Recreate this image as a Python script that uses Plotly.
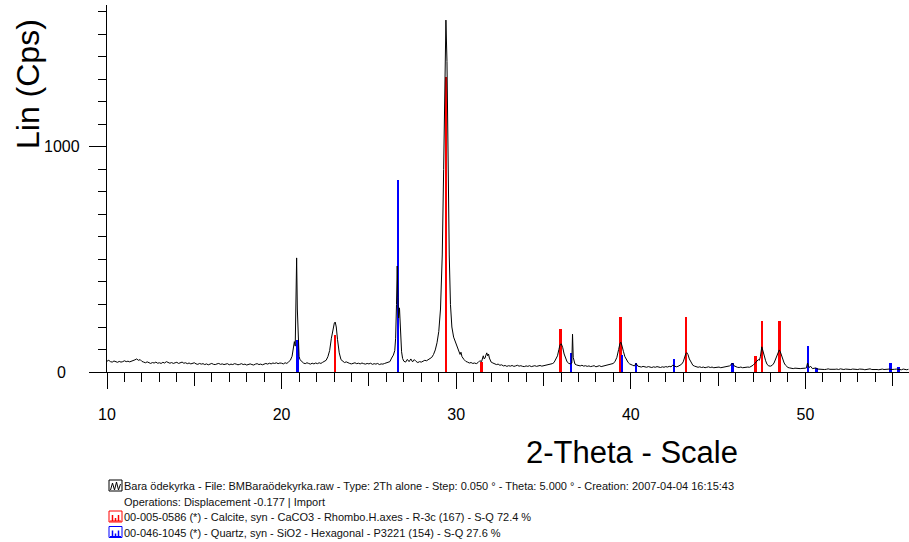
import plotly.graph_objects as go

# ---------------- data ----------------
# measured pattern (2-Theta, counts) read from the picture
pattern_points = [
    (10.0, 48), (10.1, 52), (10.2, 46), (10.3, 44), (10.4, 49), (10.5, 45), (10.6, 43), (10.7, 47),
    (10.8, 44), (10.9, 46), (11.0, 50), (11.1, 46), (11.2, 48), (11.3, 45), (11.4, 47), (11.5, 50),
    (11.6, 54), (11.7, 58), (11.8, 52), (11.9, 55), (12.0, 47), (12.1, 44), (12.2, 41), (12.3, 45),
    (12.4, 42), (12.5, 38), (12.6, 42), (12.7, 40), (12.8, 44), (12.9, 39), (13.0, 41), (13.1, 38),
    (13.2, 43), (13.3, 40), (13.4, 46), (13.5, 41), (13.6, 39), (13.7, 42), (13.8, 38), (13.9, 41),
    (14.0, 43), (14.1, 38), (14.2, 40), (14.3, 44), (14.4, 39), (14.5, 41), (14.6, 37), (14.7, 40),
    (14.8, 36), (14.9, 39), (15.0, 41), (15.1, 36), (15.2, 34), (15.3, 38), (15.4, 35), (15.5, 37),
    (15.6, 33), (15.7, 36), (15.8, 32), (15.9, 35), (16.0, 38), (16.1, 34), (16.2, 33), (16.3, 36),
    (16.4, 38), (16.5, 34), (16.6, 36), (16.7, 33), (16.8, 35), (16.9, 37), (17.0, 32), (17.1, 35),
    (17.2, 33), (17.3, 37), (17.4, 35), (17.5, 32), (17.6, 34), (17.7, 37), (17.8, 33), (17.9, 35),
    (18.0, 31), (18.1, 34), (18.2, 36), (18.3, 33), (18.4, 31), (18.5, 35), (18.6, 37), (18.7, 33),
    (18.8, 35), (18.9, 32), (19.0, 36), (19.1, 38), (19.2, 35), (19.3, 39), (19.4, 36), (19.5, 40),
    (19.6, 38), (19.7, 41), (19.8, 37), (19.9, 40), (20.0, 39), (20.1, 36), (20.2, 41), (20.3, 38),
    (20.4, 45), (20.5, 52), (20.6, 70), (20.68, 100), (20.73, 135), (20.78, 115), (20.82, 300),
    (20.86, 507), (20.9, 280), (20.95, 110), (21.0, 70), (21.05, 55), (21.15, 45), (21.25, 40),
    (21.35, 37), (21.45, 41), (21.55, 38), (21.65, 35), (21.75, 39), (21.85, 36), (21.95, 40),
    (22.05, 37), (22.15, 41), (22.25, 38), (22.35, 43), (22.45, 46), (22.55, 52), (22.65, 68),
    (22.75, 95), (22.85, 150), (22.95, 200), (23.02, 218), (23.07, 222), (23.13, 200), (23.2, 145),
    (23.3, 85), (23.4, 55), (23.5, 48), (23.6, 42), (23.7, 45), (23.8, 40), (23.9, 38), (24.0, 36),
    (24.1, 39), (24.2, 41), (24.3, 37), (24.4, 39), (24.5, 36), (24.6, 40), (24.7, 37), (24.8, 35),
    (24.9, 38), (25.0, 36), (25.1, 39), (25.2, 34), (25.3, 37), (25.4, 35), (25.5, 38), (25.6, 33),
    (25.7, 36), (25.8, 35), (25.9, 38), (26.0, 40), (26.1, 42), (26.2, 46), (26.3, 62), (26.4, 75),
    (26.48, 95), (26.53, 150), (26.58, 300), (26.62, 471), (26.66, 330), (26.7, 240), (26.75, 285),
    (26.8, 170), (26.87, 90), (26.93, 60), (27.0, 48), (27.1, 44), (27.2, 56), (27.3, 46),
    (27.4, 58), (27.5, 45), (27.6, 55), (27.7, 47), (27.8, 42), (27.9, 46), (28.0, 44), (28.1, 48),
    (28.2, 52), (28.3, 50), (28.4, 56), (28.5, 58), (28.6, 65), (28.7, 78), (28.8, 98), (28.9, 130),
    (29.0, 180), (29.1, 280), (29.2, 520), (29.28, 900), (29.35, 1300), (29.41, 1564), (29.47, 1380),
    (29.53, 950), (29.6, 520), (29.67, 300), (29.75, 200), (29.85, 155), (29.95, 135), (30.05, 120),
    (30.15, 95), (30.22, 78), (30.27, 88), (30.33, 68), (30.45, 55), (30.55, 47), (30.65, 44),
    (30.75, 40), (30.85, 42), (30.95, 38), (31.05, 40), (31.15, 37), (31.25, 42), (31.35, 50),
    (31.45, 46), (31.5, 60), (31.55, 72), (31.6, 58), (31.65, 62), (31.7, 75), (31.75, 85),
    (31.8, 72), (31.85, 80), (31.9, 62), (31.95, 50), (32.0, 44), (32.1, 40), (32.2, 36), (32.3, 33),
    (32.4, 35), (32.5, 30), (32.6, 32), (32.7, 27), (32.8, 29), (32.9, 25), (33.0, 28), (33.1, 26),
    (33.2, 29), (33.3, 25), (33.4, 27), (33.5, 30), (33.6, 26), (33.7, 28), (33.8, 25), (33.9, 24),
    (34.0, 27), (34.1, 25), (34.2, 28), (34.3, 24), (34.4, 26), (34.5, 28), (34.6, 25), (34.7, 27),
    (34.8, 29), (34.9, 26), (35.0, 28), (35.1, 30), (35.2, 29), (35.3, 32), (35.4, 34), (35.5, 37),
    (35.6, 42), (35.7, 55), (35.8, 72), (35.88, 100), (35.95, 122), (36.02, 125), (36.1, 108),
    (36.18, 80), (36.26, 58), (36.35, 45), (36.45, 38), (36.55, 36), (36.62, 40), (36.66, 168),
    (36.7, 65), (36.75, 42), (36.8, 35), (36.9, 31), (37.0, 29), (37.1, 27), (37.2, 30), (37.3, 26),
    (37.4, 28), (37.5, 25), (37.6, 27), (37.7, 24), (37.8, 26), (37.9, 28), (38.0, 23), (38.1, 26),
    (38.2, 28), (38.3, 24), (38.4, 26), (38.5, 25), (38.6, 27), (38.7, 29), (38.8, 31), (38.9, 34),
    (39.0, 38), (39.1, 48), (39.2, 65), (39.3, 100), (39.38, 128), (39.44, 132), (39.5, 118),
    (39.58, 90), (39.66, 68), (39.75, 52), (39.85, 42), (39.93, 36), (40.0, 32), (40.1, 30),
    (40.2, 27), (40.3, 38), (40.4, 26), (40.5, 24), (40.6, 22), (40.7, 25), (40.8, 23), (40.9, 21),
    (41.0, 24), (41.1, 22), (41.2, 20), (41.3, 23), (41.4, 21), (41.5, 24), (41.6, 22), (41.7, 20),
    (41.8, 23), (41.9, 21), (42.0, 24), (42.1, 22), (42.2, 25), (42.3, 23), (42.4, 30), (42.5, 26),
    (42.6, 23), (42.7, 25), (42.8, 28), (42.9, 34), (43.0, 45), (43.08, 68), (43.15, 82), (43.2, 86),
    (43.27, 78), (43.35, 58), (43.45, 40), (43.55, 30), (43.65, 26), (43.75, 23), (43.85, 21),
    (43.95, 23), (44.05, 20), (44.15, 22), (44.25, 19), (44.35, 21), (44.45, 23), (44.55, 20),
    (44.65, 22), (44.75, 19), (44.85, 21), (44.95, 20), (45.05, 22), (45.15, 19), (45.25, 21),
    (45.35, 23), (45.45, 22), (45.55, 25), (45.65, 27), (45.75, 33), (45.82, 40), (45.9, 28),
    (46.0, 24), (46.1, 21), (46.2, 20), (46.3, 22), (46.4, 19), (46.5, 21), (46.6, 20), (46.7, 22),
    (46.8, 21), (46.9, 25), (47.0, 30), (47.1, 38), (47.2, 46), (47.3, 55), (47.36, 52), (47.42, 68),
    (47.5, 112), (47.55, 95), (47.6, 80), (47.66, 70), (47.72, 50), (47.8, 34), (47.9, 27),
    (48.0, 26), (48.1, 30), (48.2, 40), (48.28, 55), (48.36, 72), (48.44, 92), (48.5, 98),
    (48.56, 90), (48.63, 72), (48.7, 55), (48.78, 40), (48.86, 30), (48.95, 24), (49.0, 20),
    (49.1, 18), (49.2, 16), (49.3, 15), (49.4, 17), (49.5, 16), (49.6, 14), (49.7, 15), (49.8, 16),
    (49.9, 15), (50.0, 17), (50.05, 18), (50.12, 40), (50.2, 20), (50.3, 25), (50.4, 15), (50.5, 16),
    (50.6, 18), (50.7, 13), (50.8, 12), (50.9, 14), (51.0, 13), (51.1, 11), (51.2, 12), (51.3, 14),
    (51.4, 12), (51.5, 11), (51.6, 10), (51.7, 12), (51.8, 13), (51.9, 11), (52.0, 14), (52.1, 12),
    (52.2, 11), (52.3, 13), (52.4, 12), (52.5, 10), (52.6, 11), (52.7, 13), (52.8, 12), (52.9, 10),
    (53.0, 11), (53.1, 13), (53.2, 14), (53.3, 12), (53.4, 10), (53.5, 11), (53.6, 12), (53.7, 14),
    (53.8, 11), (53.9, 12), (54.0, 13), (54.1, 11), (54.2, 10), (54.3, 12), (54.4, 13), (54.5, 11),
    (54.6, 12), (54.7, 14), (54.8, 13), (54.9, 11), (55.0, 10), (55.1, 12), (55.2, 13), (55.3, 11),
    (55.4, 12), (55.5, 10), (55.6, 13), (55.7, 11), (55.8, 10), (55.9, 12),
]
two_theta = [p[0] for p in pattern_points]
counts = [p[1] for p in pattern_points]

# Calcite reference sticks (red)
calcite_pos = [23.06, 29.41, 31.45, 35.98, 39.42, 43.17, 47.13, 47.5, 48.52]
calcite_int = [164, 1310, 46, 191, 244, 244, 72, 228, 228]

# Quartz reference sticks (blue)
quartz_pos = [20.9, 26.68, 36.56, 39.48, 40.31, 42.46, 45.81, 50.15, 50.63, 54.87, 55.33]
quartz_int = [142, 853, 84, 75, 41, 58, 41, 117, 18, 41, 24]

y_tick_vals = [0, 1000]
y_tick_text = ["0", "1000"]
x_tick_vals = [10, 20, 30, 40, 50]
x_tick_text = ["10", "20", "30", "40", "50"]
x_mid_ticks = [15, 25, 35, 45, 55]

legend_lines = [
    "Bara ödekyrka - File: BMBaraödekyrka.raw - Type: 2Th alone - Step: 0.050 ° - Theta: 5.000 ° - Creation: 2007-04-04 16:15:43",
    "Operations: Displacement -0.177 | Import",
    "00-005-0586 (*) - Calcite, syn - CaCO3 - Rhombo.H.axes - R-3c (167) - S-Q 72.4 %",
    "00-046-1045 (*) - Quartz, syn - SiO2 - Hexagonal - P3221 (154) - S-Q 27.6 %",
]

# ---------------- layout geometry ----------------
W, H = 909, 542
L, T = 107, 5
PW, PH = 802, 367
FONT = "Liberation Sans, Arial, sans-serif"


def px(xp):
    return (xp - L) / PW


def py(yp):
    return (T + PH - yp) / PH


fig = go.Figure()

fig.add_trace(go.Scatter(
    x=two_theta, y=counts, mode="lines",
    line=dict(color="black", width=1), hoverinfo="skip", showlegend=False,
))
fig.add_trace(go.Bar(
    x=calcite_pos, y=calcite_int, width=0.14, marker=dict(color="#ff0000", line=dict(width=0)),
    showlegend=False, hoverinfo="skip",
))
fig.add_trace(go.Bar(
    x=quartz_pos, y=quartz_int, width=0.14, marker=dict(color="#0000ff", line=dict(width=0)),
    showlegend=False, hoverinfo="skip",
))
# invisible trace to carry the overlay axis for the 5-degree ticks
fig.add_trace(go.Scatter(
    x=two_theta, y=counts, xaxis="x2", mode="lines", line=dict(width=0),
    opacity=0, hoverinfo="skip", showlegend=False,
))

fig.update_layout(
    width=W, height=H,
    margin=dict(l=L, r=W - L - PW, t=T, b=H - T - PH, pad=0),
    paper_bgcolor="white", plot_bgcolor="white",
    barmode="overlay", bargap=0,
    font=dict(family=FONT, color="black"),
    xaxis=dict(
        range=[10, 55.93], showgrid=False, zeroline=False,
        showline=True, linecolor="black", linewidth=1,
        tickmode="array", tickvals=x_tick_vals, ticktext=x_tick_text,
        ticks="outside", ticklen=16, tickwidth=1, tickcolor="black",
        tickfont=dict(size=16, family=FONT, color="black"),
        ticklabelstandoff=12,
        minor=dict(dtick=1, tick0=10, ticks="outside", ticklen=9, tickwidth=1, tickcolor="black", showgrid=False),
    ),
    xaxis2=dict(
        overlaying="x", anchor="y", side="bottom", range=[10, 55.93],
        showgrid=False, zeroline=False, showline=False,
        tickmode="array", tickvals=x_mid_ticks, ticks="outside", ticklen=13,
        tickwidth=1, tickcolor="black", showticklabels=False,
    ),
    yaxis=dict(
        range=[0, 1631], showgrid=False, zeroline=False,
        showline=True, linecolor="black", linewidth=1,
        tickmode="array", tickvals=y_tick_vals,
        ticks="outside", ticklen=17, tickwidth=1, tickcolor="black",
        showticklabels=False,
        minor=dict(dtick=100, tick0=0, ticks="outside", ticklen=8, tickwidth=1, tickcolor="black", showgrid=False),
    ),
)

annotations = [
    dict(text="Lin (Cps)", textangle=-90, x=px(28), y=py(84), xref="paper", yref="paper",
         showarrow=False, font=dict(size=32, family=FONT, color="black"), xanchor="center", yanchor="middle"),
    dict(text="2-Theta - Scale", x=px(632), y=py(452), xref="paper", yref="paper",
         showarrow=False, font=dict(size=31, family=FONT, color="black"), xanchor="center", yanchor="middle"),
]
# y tick labels (centred, as in the original)
for v, t in zip(y_tick_vals, y_tick_text):
    annotations.append(dict(text=t, x=px(61.5), y=v, xref="paper", yref="y", showarrow=False,
                            font=dict(size=16, family=FONT, color="black"),
                            xanchor="center", yanchor="middle"))

legend_y = [486, 501.5, 517, 532.5]
text_x = 122
for i, line in enumerate(legend_lines):
    annotations.append(dict(
        text=line, x=px(text_x), y=py(legend_y[i]), xref="paper", yref="paper",
        showarrow=False, font=dict(size=11, family=FONT, color="#111"),
        xanchor="left", yanchor="middle",
    ))
fig.update_layout(annotations=annotations)

# legend icons
shapes = []
icon_x0, icon_w, icon_h = 109, 13, 11
icon_rows = [(0, "black"), (2, "#ff0000"), (3, "#0000ff")]
for row, col in icon_rows:
    yc = legend_y[row] - 0.5
    x0, x1 = icon_x0, icon_x0 + icon_w
    y0, y1 = yc - icon_h / 2, yc + icon_h / 2
    shapes.append(dict(type="rect", xref="paper", yref="paper",
                       x0=px(x0), x1=px(x1), y0=py(y1), y1=py(y0),
                       line=dict(color=col, width=1), fillcolor="rgba(0,0,0,0)"))
    if row == 0:
        pts = [(x0 + 1.5, y1 - 1), (x0 + 3.5, y0 + 3), (x0 + 5.5, y1 - 1), (x0 + 7.5, y0 + 2),
               (x0 + 9.5, y1 - 1), (x0 + 11.5, y0 + 4)]
        path = "M " + " L ".join(f"{px(a)},{py(b)}" for a, b in pts)
        shapes.append(dict(type="path", xref="paper", yref="paper", path=path, line=dict(color=col, width=1)))
    else:
        for xx, top in [(x0 + 3.5, y0 + 4), (x0 + 6.5, y1 - 4), (x0 + 9.5, y0 + 4)]:
            shapes.append(dict(type="line", xref="paper", yref="paper",
                               x0=px(xx), x1=px(xx), y0=py(y1 - 1), y1=py(top), line=dict(color=col, width=1.5)))
        shapes.append(dict(type="line", xref="paper", yref="paper",
                           x0=px(x0 + 1), x1=px(x1 - 1), y0=py(y1 - 1), y1=py(y1 - 1), line=dict(color=col, width=1)))
fig.update_layout(shapes=shapes)

fig.write_html("out.html")
